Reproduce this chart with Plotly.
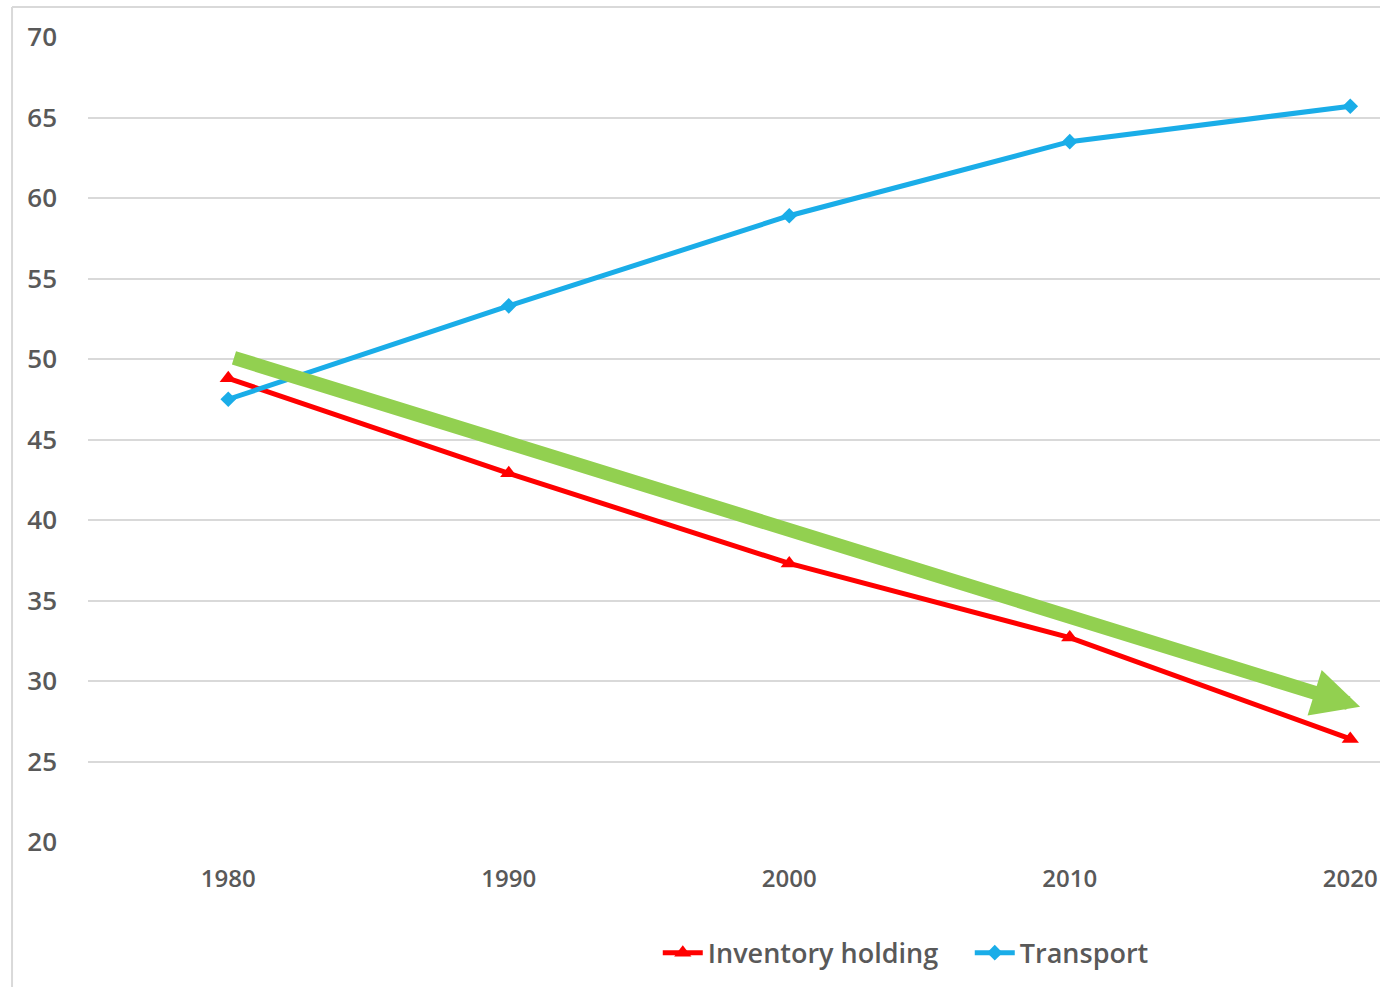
import plotly.graph_objects as go

years = [1980, 1990, 2000, 2010, 2020]
inventory_holding = [48.8, 42.9, 37.3, 32.7, 26.4]
transport = [47.5, 53.3, 58.9, 63.5, 65.7]
y_ticks = [20, 25, 30, 35, 40, 45, 50, 55, 60, 65, 70]

# trend arrow (tail -> head) in data units
arrow_tail = [1980.15, 50.1]
arrow_head = [2020.35, 28.4]

fig = go.Figure()
fig.add_trace(go.Scatter(
    x=years, y=inventory_holding, name="Inventory holding", mode="lines+markers",
    line=dict(color="#FF0000", width=5),
    marker=dict(symbol="triangle-up", size=15, color="#FF0000"),
))
fig.add_trace(go.Scatter(
    x=years, y=transport, name="Transport", mode="lines+markers",
    line=dict(color="#1AADE8", width=5),
    marker=dict(symbol="diamond", size=12, color="#1AADE8"),
))

fig.add_annotation(
    x=arrow_head[0], y=arrow_head[1], ax=arrow_tail[0], ay=arrow_tail[1],
    xref="x", yref="y", axref="x", ayref="y", text="",
    showarrow=True, arrowhead=2, arrowwidth=14, arrowsize=0.68,
    arrowcolor="#92D050", standoff=0,
)

# chart frame (left & top border)
fig.add_shape(type="line", xref="paper", yref="paper",
              x0=-0.0588, x1=-0.0588, y0=-0.2, y1=1.0373,
              line=dict(color="#D9D9D9", width=2))
fig.add_shape(type="line", xref="paper", yref="paper",
              x0=-0.0588, x1=1.01, y0=1.0373, y1=1.0373,
              line=dict(color="#D9D9D9", width=2))

fig.update_layout(
    width=1380, height=987,
    margin=dict(l=88, r=0, t=37, b=145),
    paper_bgcolor="white", plot_bgcolor="white",
    showlegend=True,
    legend=dict(orientation="h", x=0.441, xanchor="left", y=-0.138, yanchor="middle",
                font=dict(family="Open Sans", size=27, color="#595959", weight=600),
                itemwidth=40, tracegroupgap=0, entrywidth=257),
    xaxis=dict(
        range=[1975, 2021.06], tickvals=years, ticktext=[str(v) for v in years],
        showgrid=False, zeroline=False, showline=False, ticks="",
        ticklabelstandoff=20,
        tickfont=dict(family="Open Sans", size=24, color="#595959", weight=600),
    ),
    yaxis=dict(
        range=[20, 70], tickvals=y_ticks, showgrid=True, gridcolor="#D9D9D9", gridwidth=2,
        zeroline=False, showline=False, ticks="", ticklabelstandoff=30,
        tickfont=dict(family="Open Sans", size=26, color="#595959", weight=600),
    ),
)

fig.write_html("out.html", config={"displayModeBar": False},
               post_script="document.body.style.margin='0';")
